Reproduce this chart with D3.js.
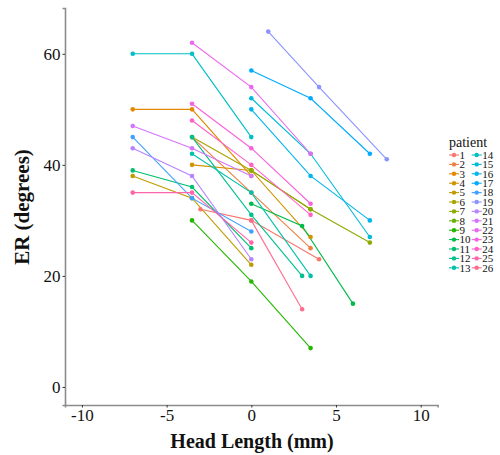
<!DOCTYPE html>
<html>
<head>
<meta charset="utf-8">
<script src="https://cdn.jsdelivr.net/npm/d3@7"></script>
<style>
  body { margin: 0; background: #fff; }
</style>
</head>
<body>
<svg id="chart"></svg>
<script>
const serif = "'Liberation Serif', 'Times New Roman', 'DejaVu Serif', serif";

// patient ids
const patients = ["1","2","3","4","5","6","7","8","9","10","11","12","13",
                  "14","15","16","17","18","19","20","21","22","23","24","25","26"];

// head length (mm) per patient
const headLength = [
  [-3, 0, 4],
  [-3.5, 0, 3.5],
  [-7, -3.5, 0],
  [-3.5, 0, 3.5],
  [-7, -3.5, 0],
  [-3.5, 0, 3.5],
  [0, 3.5, 7],
  [],
  [-3.5, 0, 3.5],
  [0, 3, 6],
  [-7, -3.5, 0],
  [-3.5, 0, 3],
  [-3.5, 0, 3.5],
  [-7, -3.5, 0],
  [0, 3.5, 7],
  [0, 3.5, 7],
  [0, 3.5, 7],
  [-7, -3.5, 0],
  [1, 4, 8],
  [-7, -3.5, 0],
  [-7, -3.5, 0],
  [-3.5, 0, 3.5],
  [-3.5, 0, 3.5],
  [-3.5, 0, 3.5],
  [-7, -3.5, 0],
  [0, 3]
];

// external rotation (degrees) per patient
const erDeg = [
  [32, 30, 23],
  [45, 35, 25],
  [50, 50, 38],
  [40, 39, 27],
  [38, 34, 22],
  [45, 39, 32],
  [39, 32, 26],
  [],
  [30, 19, 7],
  [33, 29, 15],
  [39, 36, 25],
  [45, 31, 20],
  [42, 35, 20],
  [60, 60, 45],
  [52, 42, 27],
  [50, 38, 30],
  [57, 52, 42],
  [45, 34, 28],
  [64, 54, 41],
  [43, 38, 23],
  [47, 43, 38],
  [62, 54, 42],
  [51, 43, 33],
  [48, 40, 31],
  [35, 35, 26],
  [30, 14]
];

const xTicks = [-10, -5, 0, 5, 10];
const yTicks = [0, 20, 40, 60];

// ggplot-style hcl (polar Luv) colour
function hclLuv(h, c, l){
    const hr = h * Math.PI / 180;
    const U = c * Math.cos(hr), V = c * Math.sin(hr);
    const Y = l > 8 ? Math.pow((l + 16) / 116, 3) : l / 903.3;
    const un = 0.1978398, vn = 0.4683363;
    const u = U / (13 * l) + un, v = V / (13 * l) + vn;
    const X = 9 * Y * u / (4 * v);
    const Z = 3 * Y / v - X / 3 - 5 * Y;
    const lin = [
        3.240479 * X - 1.537150 * Y - 0.498535 * Z,
        -0.969256 * X + 1.875992 * Y + 0.041556 * Z,
        0.055648 * X - 0.204043 * Y + 1.057311 * Z
    ];
    const rgb = lin.map(t => {
        const g = t <= 0.0031308 ? 12.92 * t : 1.055 * Math.pow(t, 1 / 2.4) - 0.055;
        return Math.round(Math.max(0, Math.min(1, g)) * 255);
    });
    return d3.rgb(rgb[0], rgb[1], rgb[2]).formatHex();
}

const colors = patients.map((p, i) => hclLuv(15 + i * 360 / patients.length, 100, 65));
const color = d3.scaleOrdinal().domain(patients).range(colors);

const width = 500, height = 455;
const svg = d3.select("#chart").attr("width", width).attr("height", height);

const x = d3.scaleLinear().domain([-11, 11]).range([65, 437.6]);
const y = d3.scaleLinear().domain([-3.25, 68.25]).range([405, 8]);

const series = patients.map((p, i) => ({
    id: p,
    values: headLength[i].map((h, j) => ({hl: h, er: erDeg[i][j]}))
})).filter(s => s.values.length > 0);

// lines
const line = d3.line().x(d => x(d.hl)).y(d => y(d.er));
svg.append("g")
    .selectAll("path")
    .data(series)
    .join("path")
    .attr("d", d => line(d.values))
    .attr("fill", "none")
    .attr("stroke", d => color(d.id))
    .attr("stroke-width", 1.1);

// points
svg.append("g")
    .selectAll("g")
    .data(series)
    .join("g")
    .attr("fill", d => color(d.id))
    .selectAll("circle")
    .data(d => d.values)
    .join("circle")
    .attr("cx", d => x(d.hl))
    .attr("cy", d => y(d.er))
    .attr("r", 2.3);

// axes
const xAxis = svg.append("g")
    .attr("transform", `translate(0, ${y.range()[0]})`)
    .call(d3.axisBottom(x).tickValues(xTicks).tickSize(2.5).tickPadding(1.5).tickFormat(d => d < 0 ? "-" + Math.abs(d) : d));
const yAxis = svg.append("g")
    .attr("transform", `translate(${x.range()[0]}, 0)`)
    .call(d3.axisLeft(y).tickValues(yTicks).tickSize(2.5).tickPadding(2));

[xAxis, yAxis].forEach(a => {
    a.attr("font-family", serif);
    a.select(".domain").attr("stroke", "#8c8c8c").attr("stroke-width", 1.6);
    a.selectAll(".tick line").attr("stroke", "#333");
    a.selectAll(".tick text")
        .attr("fill", "#111")
        .attr("font-family", serif)
        .attr("font-size", 17);
});

// axis titles
svg.append("text")
    .attr("x", 252)
    .attr("y", 448)
    .attr("text-anchor", "middle")
    .attr("font-family", serif)
    .attr("font-size", 20)
    .attr("font-weight", "bold")
    .attr("fill", "#111")
    .text("Head Length (mm)");

svg.append("text")
    .attr("transform", "translate(29, 207) rotate(-90)")
    .attr("text-anchor", "middle")
    .attr("font-family", serif)
    .attr("font-size", 21)
    .attr("font-weight", "bold")
    .attr("fill", "#111")
    .text("ER (degrees)");

// legend
const legend = svg.append("g").attr("font-family", serif);
legend.append("text")
    .attr("x", 449)
    .attr("y", 147)
    .attr("font-size", 14)
    .attr("fill", "#111")
    .text("patient");

const rowStep = 9.4;
const items = legend.selectAll("g.item")
    .data(patients)
    .join("g")
    .attr("class", "item")
    .attr("transform", (d, i) => {
        const col = Math.floor(i / 13), row = i % 13;
        return `translate(${454 + col * 22.7}, ${155 + row * rowStep})`;
    });
items.append("line")
    .attr("x1", -5).attr("x2", 5)
    .attr("stroke", d => color(d))
    .attr("stroke-width", 1.1);
items.append("circle")
    .attr("r", 2.2)
    .attr("fill", d => color(d));
items.append("text")
    .attr("x", 5.5)
    .attr("dy", "0.35em")
    .attr("font-size", 11)
    .attr("fill", "#111")
    .text(d => d);
</script>
</body>
</html>
